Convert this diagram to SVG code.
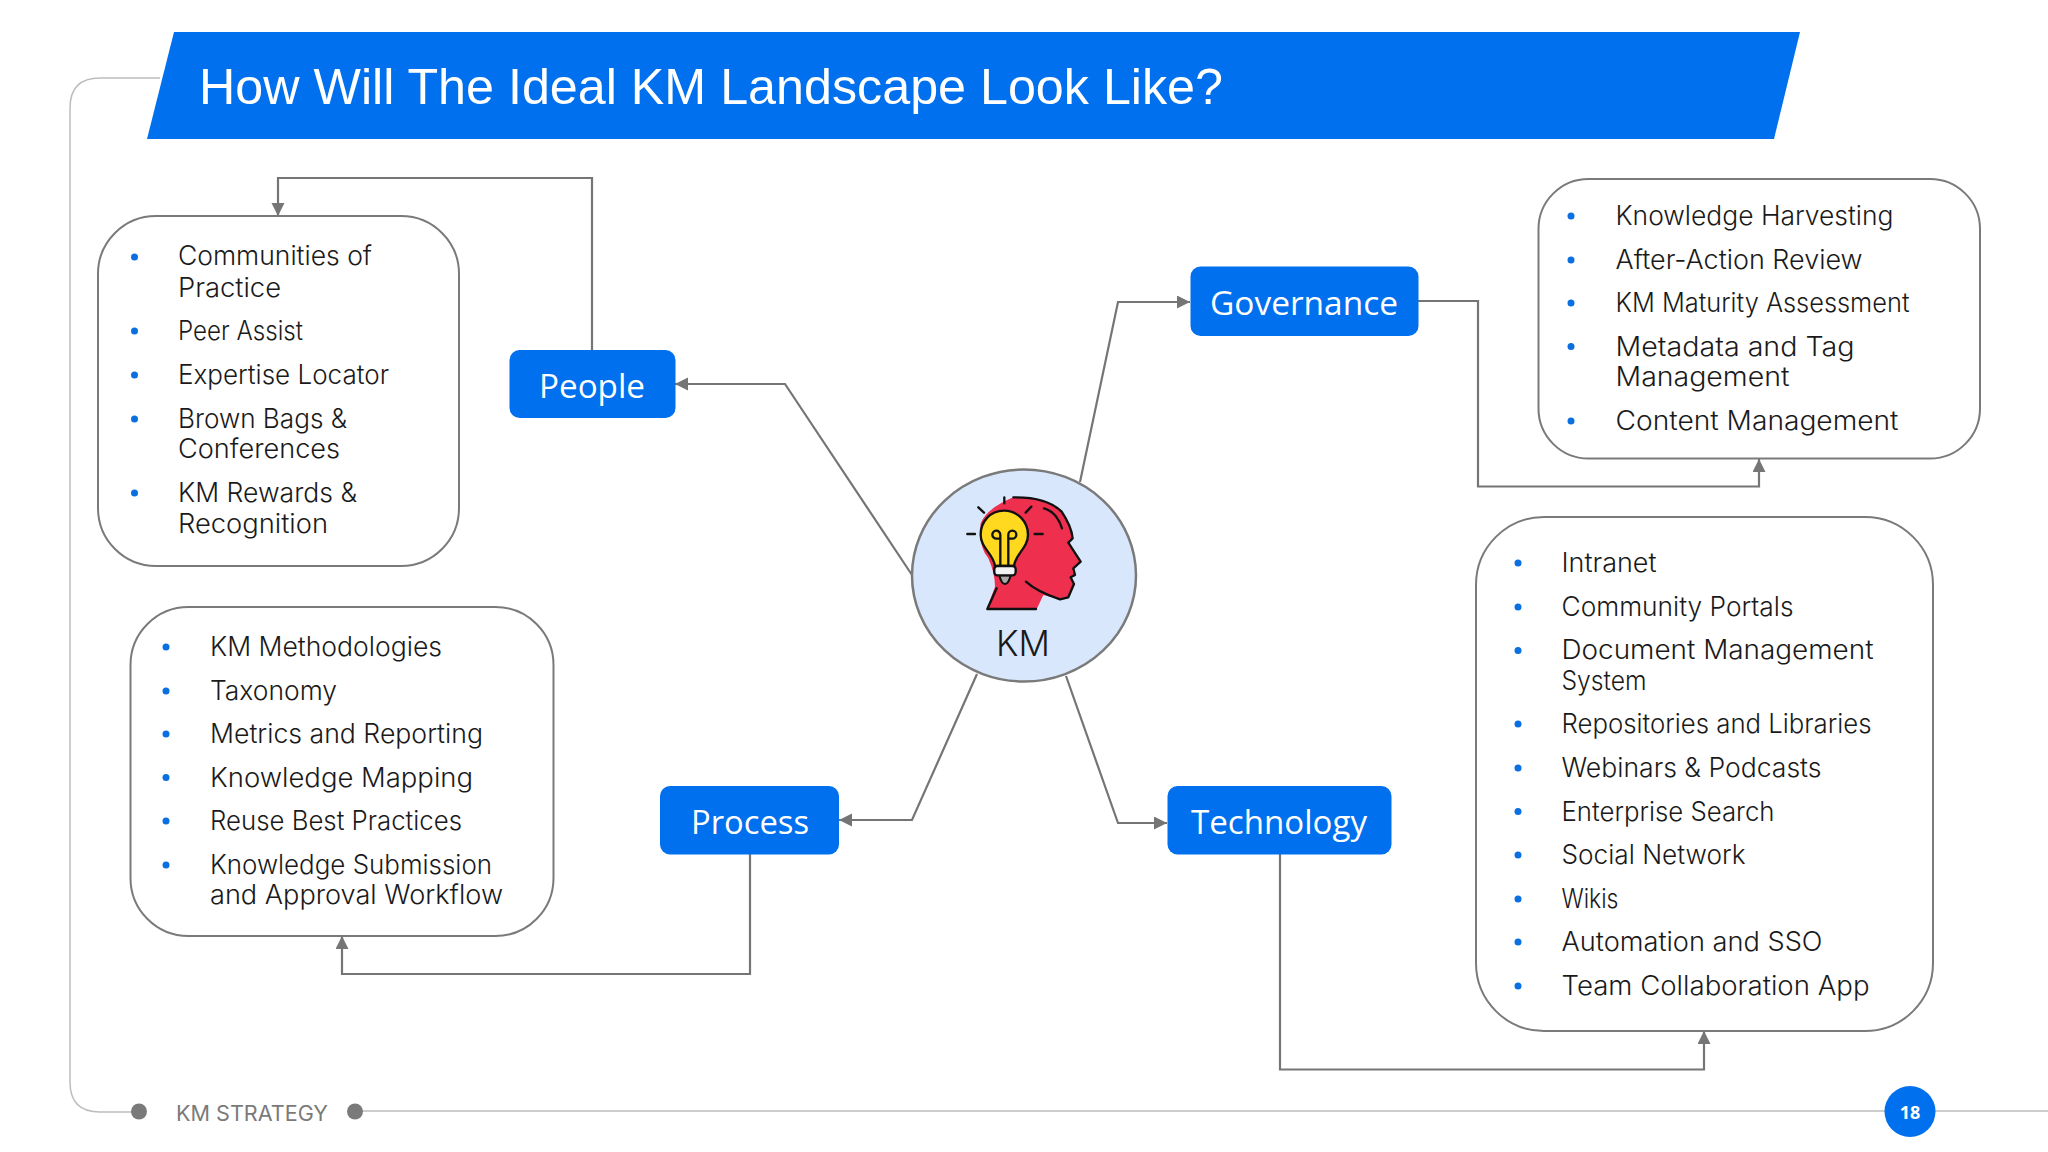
<svg xmlns="http://www.w3.org/2000/svg" width="2048" height="1152" viewBox="0 0 2048 1152">
<defs>
<marker id="arr" markerUnits="userSpaceOnUse" markerWidth="15" markerHeight="15" refX="13" refY="6.500" orient="auto"><path d="M0 0L13 6.500L0 13z" fill="#757575"/></marker>
</defs>
<style>
.t{font-family:"Inter","Lato",sans-serif;font-weight:300;font-size:26.500px;fill:#1a1a1a}
.n{font-family:"Open Sans","Noto Sans",sans-serif;font-size:33px;fill:#fff;text-anchor:middle}
.nb{fill:#0070ee}
.box{fill:#fff;stroke:#7a7a7a;stroke-width:2}
.c{fill:none;stroke:#757575;stroke-width:2.200;marker-end:url(#arr)}
.b{fill:#0a6fe0}
.k{fill:none;stroke:#111;stroke-width:7;stroke-linecap:round;stroke-linejoin:round}
</style>
<rect width="2048" height="1152" fill="#fff"/>
<g id="frame" fill="none" stroke="#bdbdbd" stroke-width="1.500">
<path d="M160 78H100Q70 78 70 108V1082Q70 1112 100 1112H139"/>
<path d="M355 1111H2048"/>
</g>
<g id="banner"><path d="M174 32H1800L1774 139H147z" fill="#0070ee"/>
<text x="199" y="104" font-family="Liberation Sans,sans-serif" font-size="50" fill="#fff" textLength="1024" lengthAdjust="spacingAndGlyphs">How Will The Ideal KM Landscape Look Like?</text></g>
<g id="connectors">
<path class="c" d="M592 350V178H278V216"/>
<path class="c" d="M912 575L785 384H675"/>
<path class="c" d="M1080 482L1118 302H1190"/>
<path class="c" d="M1418 301H1478V486.500H1759V459"/>
<path class="c" d="M977 674L912 820H839"/>
<path class="c" d="M750 854V974H342V936"/>
<path class="c" d="M1066 676L1118 823H1167"/>
<path class="c" d="M1280 854V1069.500H1704V1031"/>
</g>
<g id="box-people"><rect class="box" x="98" y="216" width="361" height="350" rx="58"/>
<circle class="b" cx="134.500" cy="257" r="3.500"/><circle class="b" cx="134.500" cy="331" r="3.500"/><circle class="b" cx="134.500" cy="375" r="3.500"/><circle class="b" cx="134.500" cy="419" r="3.500"/><circle class="b" cx="134.500" cy="493" r="3.500"/>
<text class="t" x="178" y="265" textLength="194" lengthAdjust="spacingAndGlyphs">Communities of</text>
<text class="t" x="178" y="297" textLength="103" lengthAdjust="spacingAndGlyphs">Practice</text>
<text class="t" x="178" y="340" textLength="125" lengthAdjust="spacingAndGlyphs">Peer Assist</text>
<text class="t" x="178" y="384" textLength="211" lengthAdjust="spacingAndGlyphs">Expertise Locator</text>
<text class="t" x="178" y="428" textLength="169" lengthAdjust="spacingAndGlyphs">Brown Bags &amp;</text>
<text class="t" x="178" y="458" textLength="162" lengthAdjust="spacingAndGlyphs">Conferences</text>
<text class="t" x="178" y="502" textLength="179" lengthAdjust="spacingAndGlyphs">KM Rewards &amp;</text>
<text class="t" x="178" y="533" textLength="150" lengthAdjust="spacingAndGlyphs">Recognition</text></g>
<g id="box-process"><rect class="box" x="130.500" y="607" width="423" height="329" rx="58"/>
<circle class="b" cx="166" cy="647" r="3.500"/><circle class="b" cx="166" cy="691" r="3.500"/><circle class="b" cx="166" cy="734" r="3.500"/><circle class="b" cx="166" cy="777.500" r="3.500"/><circle class="b" cx="166" cy="821" r="3.500"/><circle class="b" cx="166" cy="865" r="3.500"/>
<text class="t" x="210" y="656" textLength="232" lengthAdjust="spacingAndGlyphs">KM Methodologies</text>
<text class="t" x="210" y="700" textLength="127" lengthAdjust="spacingAndGlyphs">Taxonomy</text>
<text class="t" x="210" y="743" textLength="273" lengthAdjust="spacingAndGlyphs">Metrics and Reporting</text>
<text class="t" x="210" y="787" textLength="263" lengthAdjust="spacingAndGlyphs">Knowledge Mapping</text>
<text class="t" x="210" y="830" textLength="252" lengthAdjust="spacingAndGlyphs">Reuse Best Practices</text>
<text class="t" x="210" y="874" textLength="282" lengthAdjust="spacingAndGlyphs">Knowledge Submission</text>
<text class="t" x="210" y="904" textLength="293" lengthAdjust="spacingAndGlyphs">and Approval Workflow</text></g>
<g id="box-governance"><rect class="box" x="1538.500" y="179" width="441.500" height="279.500" rx="50"/>
<circle class="b" cx="1571" cy="216" r="3.500"/><circle class="b" cx="1571" cy="260" r="3.500"/><circle class="b" cx="1571" cy="303" r="3.500"/><circle class="b" cx="1571" cy="346.500" r="3.500"/><circle class="b" cx="1571" cy="421" r="3.500"/>
<text class="t" x="1615.500" y="225" textLength="278" lengthAdjust="spacingAndGlyphs">Knowledge Harvesting</text>
<text class="t" x="1615.500" y="269" textLength="247" lengthAdjust="spacingAndGlyphs">After-Action Review</text>
<text class="t" x="1615.500" y="312" textLength="294" lengthAdjust="spacingAndGlyphs">KM Maturity Assessment</text>
<text class="t" x="1615.500" y="356" textLength="239" lengthAdjust="spacingAndGlyphs">Metadata and Tag</text>
<text class="t" x="1615.500" y="386" textLength="174" lengthAdjust="spacingAndGlyphs">Management</text>
<text class="t" x="1615.500" y="430" textLength="283" lengthAdjust="spacingAndGlyphs">Content Management</text></g>
<g id="box-technology"><rect class="box" x="1476" y="517" width="457" height="514" rx="68"/>
<circle class="b" cx="1518" cy="563" r="3.500"/><circle class="b" cx="1518" cy="607" r="3.500"/><circle class="b" cx="1518" cy="650.500" r="3.500"/><circle class="b" cx="1518" cy="724" r="3.500"/><circle class="b" cx="1518" cy="768" r="3.500"/><circle class="b" cx="1518" cy="811.500" r="3.500"/><circle class="b" cx="1518" cy="855" r="3.500"/><circle class="b" cx="1518" cy="899" r="3.500"/><circle class="b" cx="1518" cy="942" r="3.500"/><circle class="b" cx="1518" cy="986" r="3.500"/>
<text class="t" x="1561.500" y="572" textLength="95" lengthAdjust="spacingAndGlyphs">Intranet</text>
<text class="t" x="1561.500" y="616" textLength="232" lengthAdjust="spacingAndGlyphs">Community Portals</text>
<text class="t" x="1561.500" y="659" textLength="312" lengthAdjust="spacingAndGlyphs">Document Management</text>
<text class="t" x="1561.500" y="690" textLength="85" lengthAdjust="spacingAndGlyphs">System</text>
<text class="t" x="1561.500" y="733" textLength="310" lengthAdjust="spacingAndGlyphs">Repositories and Libraries</text>
<text class="t" x="1561.500" y="777" textLength="260" lengthAdjust="spacingAndGlyphs">Webinars &amp; Podcasts</text>
<text class="t" x="1561.500" y="821" textLength="213" lengthAdjust="spacingAndGlyphs">Enterprise Search</text>
<text class="t" x="1561.500" y="864" textLength="184" lengthAdjust="spacingAndGlyphs">Social Network</text>
<text class="t" x="1561.500" y="908" textLength="57" lengthAdjust="spacingAndGlyphs">Wikis</text>
<text class="t" x="1561.500" y="951" textLength="261" lengthAdjust="spacingAndGlyphs">Automation and SSO</text>
<text class="t" x="1561.500" y="995" textLength="308" lengthAdjust="spacingAndGlyphs">Team Collaboration App</text></g>
<g id="node-people"><rect class="nb" x="509.500" y="350" width="166" height="68" rx="10"/><text class="n" x="592" y="398" textLength="106" lengthAdjust="spacingAndGlyphs">People</text></g>
<g id="node-governance"><rect class="nb" x="1190.500" y="266.500" width="228" height="69.500" rx="10"/><text class="n" x="1304" y="315" textLength="188" lengthAdjust="spacingAndGlyphs">Governance</text></g>
<g id="node-process"><rect class="nb" x="660" y="786" width="179" height="68.500" rx="10"/><text class="n" x="750" y="834" textLength="118" lengthAdjust="spacingAndGlyphs">Process</text></g>
<g id="node-technology"><rect class="nb" x="1167.500" y="786" width="224" height="68.500" rx="10"/><text class="n" x="1279" y="834" textLength="176" lengthAdjust="spacingAndGlyphs">Technology</text></g>
<g id="node-km">
<ellipse cx="1024" cy="575.500" rx="112" ry="106" fill="#d9e7fd" stroke="#7a7a7a" stroke-width="2.500"/>
<g transform="translate(880 440) scale(.3333)">
<path d="M320 508L345 440Q345 400 325 355Q295 320 302 250Q320 205 400 172Q500 170 545 215Q575 260 578 295L565 308L602 365L580 385L585 405L572 412L582 432L565 472L540 478L490 465L470 508z" fill="#ee2f4e"/>
<path class="k" d="M322 507H468M322 507L350 445"/><path class="k" d="M400 172Q500 170 545 215Q575 260 578 295L565 308L602 365L580 385L585 405L572 412L582 432L565 472L540 478Q470 455 438 425"/>
<path class="k" d="M492 205Q530 215 546 265"/>
<path class="k" d="M373 172V190M295 202L312 218M262 282H285M437 218L454 200M464 282H488"/>
<path d="M372 212C330 212 302 246 302 284C302 325 340 340 345 378H402C407 340 444 325 444 284C444 246 414 212 372 212z" fill="#ffd91f" stroke="#111" stroke-width="7"/>
<path class="k" d="M361 375V296M385 375V296M361 296H350A12 12 0 1 1 361 284V296M385 296H397A12 12 0 1 0 385 284V296" stroke-width="6"/>
<path d="M358 406H392Q386 432 375 432Q364 432 358 406z" fill="#aaa" stroke="#111" stroke-width="6"/>
<rect x="343" y="378" width="64" height="28" rx="9" fill="#f3f3f3" stroke="#111" stroke-width="7"/>
</g>
<text x="1023" y="656" font-family="Inter,Lato,sans-serif" font-weight="300" font-size="35" fill="#1a1a1a" text-anchor="middle" textLength="54" lengthAdjust="spacingAndGlyphs">KM</text>
</g>
<g id="footer">
<circle cx="139" cy="1111.500" r="8" fill="#7a7a7a"/><circle cx="355" cy="1111.500" r="8" fill="#7a7a7a"/>
<text x="176" y="1120.500" font-family="Inter,Liberation Sans,sans-serif" font-size="21" fill="#7a7a7a" textLength="152" lengthAdjust="spacingAndGlyphs">KM STRATEGY</text>
<circle cx="1910" cy="1111.500" r="25.500" fill="#0070ee"/>
<text x="1910" y="1119" font-family="Open Sans,sans-serif" font-weight="700" font-size="18" fill="#fff" text-anchor="middle">18</text>
</g>
</svg>
